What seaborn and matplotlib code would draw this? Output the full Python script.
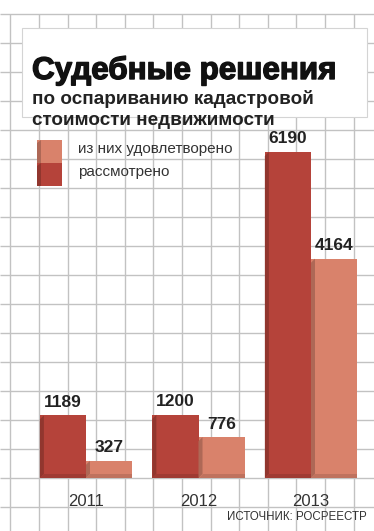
import numpy as np
import pandas as pd
import matplotlib
matplotlib.use("Agg")
import matplotlib.pyplot as plt
import matplotlib.colors as mcolors
import matplotlib.patheffects as pe
from matplotlib.patches import Rectangle, Polygon
import seaborn as sns

# ---- data ----
years = ["2011", "2012", "2013"]
considered = [1189, 1200, 6190]
satisfied = [327, 776, 4164]
series_names = ["рассмотрено", "из них удовлетворено"]
title = "Судебные решения"
subtitle = ["по оспариванию кадастровой", "стоимости недвижимости"]
source = "ИСТОЧНИК: РОСРЕЕСТР"

# ---- style ----
W, H, DPI = 374, 531, 100
DARK = "#b5433a"
LIGHT = "#d9826b"
GRID = "#c2c2c2"
sns.set_theme(style="white")
plt.rcParams["font.family"] = ["Liberation Sans", "DejaVu Sans"]

fig = plt.figure(figsize=(W / DPI, H / DPI), dpi=DPI)
fig.patch.set_facecolor("white")

# background grid paper (decorative, pixel coordinates)
bg = fig.add_axes([0, 0, 1, 1])
bg.set_xlim(0, W)
bg.set_ylim(H, 0)
bg.axis("off")
gx = np.arange(10.4, W, 28.6)
gy = np.arange(14, H, 29)
bg.vlines(gx, 14, H, color=GRID, lw=1.0)
bg.hlines(gy, 0, W, color=GRID, lw=1.0)
bg.add_patch(Rectangle((22, 28), 345, 89, facecolor="white",
                       edgecolor="#d4d4d4", lw=0.8, zorder=3))


def shade(c, f):
    return tuple(np.array(mcolors.to_rgb(c)) * f)


# ---- legend (pixel coordinates on the background layer) ----
for (top, col, lab) in [(140, LIGHT, series_names[1]), (163, DARK, series_names[0])]:
    bg.add_patch(Rectangle((37, top), 25, 23, facecolor=col, lw=0, zorder=4))
    bg.add_patch(Polygon([(37, top + 23), (37, top + 3), (41, top), (41, top + 23)],
                         facecolor=shade(col, 0.8), lw=0, zorder=5))
    bg.text(78, top + 9, lab, fontsize=11, color="#333333",
            va="center", ha="left", zorder=5)

# ---- bars ----
ax = fig.add_axes([0, 0, 1, 1])
ax.patch.set_alpha(0)
df = pd.DataFrame({
    "year": years * 2,
    "series": [series_names[0]] * len(years) + [series_names[1]] * len(years),
    "value": considered + satisfied,
})
sns.barplot(data=df, x="year", y="value", hue="series", hue_order=series_names,
            palette=[DARK, LIGHT], width=0.82, dodge=True, saturation=1,
            errorbar=None, legend=False, ax=ax, linewidth=0)

# layout: group centre of first year at px 86, 112.5 px per category,
# baseline 53 px from bottom, 6190 -> 326 px
px_per_cat = 112.5
units_per_px = 6190 / 326
x0 = -86 / px_per_cat
ax.set_xlim(x0, x0 + W / px_per_cat)
ax.set_ylim(-53 * units_per_px, (H - 53) * units_per_px)
ax.axis("off")

# pseudo-3D shading
sx = 4 / px_per_cat
sy = 4 * units_per_px
for p in list(ax.patches):
    x, w, h = p.get_x(), p.get_width(), p.get_height()
    fc = p.get_facecolor()
    ax.add_patch(Polygon([(x, 0), (x + sx, sy), (x + sx, h), (x, h - sy)],
                         closed=True, facecolor=shade(fc, 0.8), lw=0, zorder=3))
    ax.add_patch(Polygon([(x, 0), (x + w, 0), (x + w, sy), (x + sx, sy)],
                         closed=True, facecolor=shade(fc, 0.88), lw=0, zorder=3))

for cont in ax.containers:
    ax.bar_label(cont, labels=[f"{int(v)}" for v in cont.datavalues],
                 padding=4, fontsize=12.5, fontweight="bold", color="#222222")

for i, y in enumerate(years):
    ax.annotate(y, xy=(i, 0), xytext=(0, -24), textcoords="offset pixels",
                ha="center", va="center", fontsize=12, color="#333333")

# ---- texts ----
fig.text(32 / W, 1 - 79 / H, title, fontsize=22.6, fontweight="bold",
         color="#111111", va="baseline", ha="left",
         path_effects=[pe.withStroke(linewidth=1.0, foreground="#111111")])
fig.text(32 / W, 1 - 104 / H, subtitle[0], fontsize=13.6, fontweight="bold",
         color="#222222", va="baseline", ha="left")
fig.text(32 / W, 1 - 125 / H, subtitle[1], fontsize=13.6, fontweight="bold",
         color="#222222", va="baseline", ha="left")
fig.text(367 / W, 1 - 517 / H, source, fontsize=8.3, color="#333333",
         va="center", ha="right")

fig.savefig("out.png", dpi=DPI, facecolor="white")
